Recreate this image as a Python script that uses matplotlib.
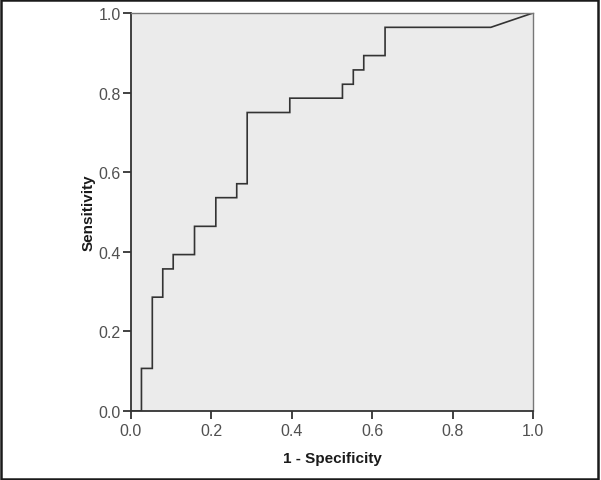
import matplotlib
matplotlib.use("Agg")
import matplotlib.pyplot as plt
from matplotlib.patches import Rectangle

# ROC curve points (1 - Specificity, Sensitivity)
fpr = [0.0, 0.026, 0.026, 0.053, 0.053, 0.079, 0.079, 0.105, 0.105, 0.158, 0.158,
       0.211, 0.211, 0.263, 0.263, 0.289, 0.289, 0.395, 0.395, 0.526, 0.526,
       0.553, 0.553, 0.579, 0.579, 0.632, 0.632, 0.895, 1.0]
tpr = [0.0, 0.0, 0.107, 0.107, 0.286, 0.286, 0.357, 0.357, 0.393, 0.393, 0.464,
       0.464, 0.536, 0.536, 0.571, 0.571, 0.750, 0.750, 0.786, 0.786, 0.821,
       0.821, 0.857, 0.857, 0.893, 0.893, 0.964, 0.964, 1.0]
ticks = [0.0, 0.2, 0.4, 0.6, 0.8, 1.0]
tick_labels = ["0.0", "0.2", "0.4", "0.6", "0.8", "1.0"]
x_label = "1 - Specificity"
y_label = "Sensitivity"

plt.rcParams['font.family'] = ['Liberation Sans', 'DejaVu Sans']

fig = plt.figure(figsize=(6.01, 4.81), dpi=100)
ax = fig.add_axes([131/601, 1 - 412/481, (533-131)/601, (412-14)/481])
ax.set_facecolor('#ebebeb')

ax.plot(fpr, tpr, color='#333333', linewidth=1.2, solid_joinstyle='miter')

ax.set_xlim(0, 1)
ax.set_ylim(0, 1)
ax.set_xticks(ticks)
ax.set_xticklabels(tick_labels)
ax.set_yticks(ticks)
ax.set_yticklabels(tick_labels)
ax.tick_params(axis='both', direction='out', length=6, width=1.3, color='#333333',
               labelsize=11.5, labelcolor='#505050')
ax.tick_params(axis='x', pad=3)
ax.tick_params(axis='y', pad=1.5)

for s in ['left', 'bottom']:
    ax.spines[s].set_color('#333333')
    ax.spines[s].set_linewidth(1.3)
for s in ['top', 'right']:
    ax.spines[s].set_color('#777777')
    ax.spines[s].set_linewidth(1.0)

ax.set_xlabel(x_label, fontsize=11, fontweight='bold', color='#1a1a1a', labelpad=9)
ax.set_ylabel(y_label, fontsize=11, fontweight='bold', color='#1a1a1a', labelpad=2)

fig.patches.append(Rectangle((0.0015, 0.002), 0.994, 0.995, transform=fig.transFigure,
                             fill=False, edgecolor='#1a1a1a', linewidth=1.8))

fig.savefig('out.png', dpi=100)
